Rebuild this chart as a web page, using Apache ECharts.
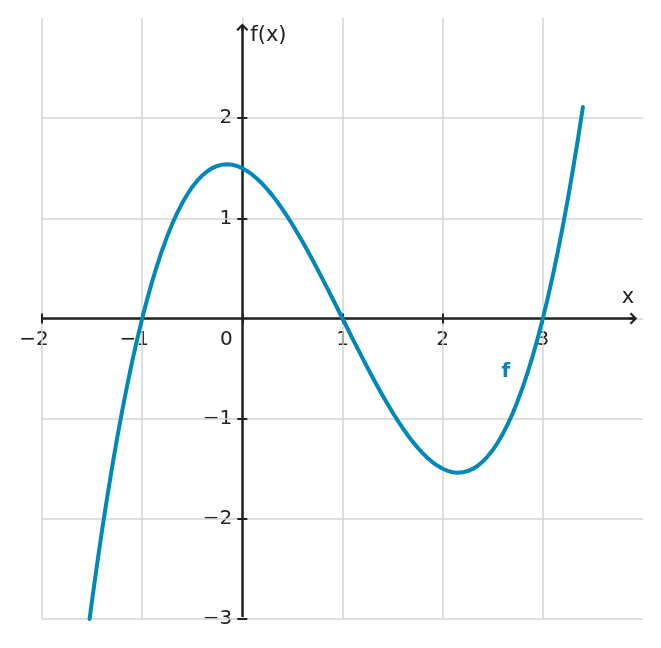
<!DOCTYPE html>
<html>
<head>
<meta charset="utf-8">
<script src="https://cdn.jsdelivr.net/npm/echarts@6/dist/echarts.min.js"></script>
<style>
html,body{margin:0;padding:0;background:#fff;}
#c{width:661px;height:648px;}
</style>
</head>
<body>
<div id="c"></div>
<script>
// Curve points
const xs = [-1.525,-1.5,-1.45,-1.4,-1.35,-1.3,-1.25,-1.2,-1.15,-1.1,-1.05,-1.0,-0.95,-0.9,-0.85,-0.8,-0.75,-0.7,-0.65,-0.6,-0.55,-0.5,-0.45,-0.4,-0.35,-0.3,-0.25,-0.2,-0.15,-0.1,-0.05,0,
  0.05,0.1,0.15,0.2,0.25,0.3,0.35,0.4,0.45,0.5,0.55,0.6,0.65,0.7,0.75,0.8,0.85,0.9,0.95,1.0,
  1.05,1.1,1.15,1.2,1.25,1.3,1.35,1.4,1.45,1.5,1.55,1.6,1.65,1.7,1.75,1.8,1.85,1.9,1.95,2.0,
  2.05,2.1,2.15,2.2,2.25,2.3,2.35,2.4,2.45,2.5,2.55,2.6,2.65,2.7,2.75,2.8,2.85,2.9,2.95,3.0,
  3.05,3.1,3.15,3.2,3.25,3.3,3.35,3.4];
const ys = [-2.999,-2.813,-2.453,-2.112,-1.789,-1.484,-1.195,-0.924,-0.669,-0.431,-0.208,0,0.193,0.371,0.534,0.684,0.820,0.944,1.054,1.152,1.238,1.313,1.376,1.428,1.470,1.502,1.523,1.536,1.540,1.535,1.521,1.5,
  1.471,1.436,1.393,1.344,1.289,1.229,1.163,1.092,1.017,0.938,0.854,0.768,0.679,0.587,0.492,0.396,0.298,0.200,0.100,0,
  -0.100,-0.200,-0.298,-0.396,-0.492,-0.587,-0.679,-0.768,-0.854,-0.938,-1.017,-1.092,-1.163,-1.229,-1.289,-1.344,-1.393,-1.436,-1.471,-1.5,
  -1.521,-1.535,-1.540,-1.536,-1.523,-1.502,-1.470,-1.428,-1.376,-1.313,-1.238,-1.152,-1.054,-0.944,-0.820,-0.684,-0.534,-0.371,-0.193,0,
  0.208,0.431,0.669,0.924,1.195,1.484,1.789,2.112];
const xTicks = [-2,-1,0,1,2,3];
const yTicks = [-3,-2,-1,1,2];
const xGrid = [-2,-1,0,1,2,3];
const yGrid = [-3,-2,-1,0,1,2];
const curveName = 'f';
const curveLabelPos = [2.63, -0.53];
const xRange = [-2, 4];
const yRange = [-3, 3];
const xAxisEnd = 3.905;   // where the x-axis arrow sits
const yAxisEnd = 2.908;   // where the y-axis arrow sits
const yAxisStart = -2.98;
const tickHalf = 0.05;

const FONT = 'DejaVu Sans';
const INK = '#222222';
const BLUE = '#0088bb';
const GRIDC = '#d4d4d4';

const G = {left: 42, right: 18, top: 18, bottom: 29};
const W = 661 - G.left - G.right;
const H = 648 - G.top - G.bottom;
// x axis (labels) sits at y = 0, y axis (labels) sits at x = 0
const xAxisOff = -H * (0 - yRange[0]) / (yRange[1] - yRange[0]);
const yAxisOff = -W * (0 - xRange[0]) / (xRange[1] - xRange[0]);

// open chevron arrow with stem (points "up" in symbol space)
const ARROW = 'path://M6,0 L12,6 L10.5,7.5 L6,3 L1.5,7.5 L0,6 Z M4.8,2 L7.2,2 L7.2,7.5 L4.8,7.5 Z';

const chart = echarts.init(document.getElementById('c'), null, {renderer:'canvas'});

const lblStyle = {fontFamily: FONT, fontSize: 20, color: INK};
const xLabelFmt = function(v){
  if (xTicks.indexOf(v) < 0) return '';
  if (v === 0) return '{z|0}';
  if (v < 0) return '{n|\u2212' + (-v) + '}';
  return '{p|' + v + '}';
};
const yLabelFmt = function(v){
  if (yTicks.indexOf(v) < 0) return '';
  return v < 0 ? '\u2212' + (-v) : String(v);
};

const tickSegs = xTicks.map(v => [{coord: [v, -tickHalf]}, {coord: [v, tickHalf]}])
  .concat(yTicks.map(v => [{coord: [-tickHalf, v]}, {coord: [tickHalf, v]}]));

chart.setOption({
  animation: false,
  backgroundColor: '#fff',
  grid: Object.assign({containLabel: false}, G),
  xAxis: {
    type: 'value', min: xRange[0], max: xRange[1], interval: 1,
    position: 'bottom', offset: xAxisOff,
    axisLine: {show: false, onZero: false},
    axisTick: {show: false},
    axisLabel: {show: true, margin: 11, formatter: xLabelFmt,
      rich: {
        z: Object.assign({padding: [0, 32, 0, 0]}, lblStyle),
        n: Object.assign({padding: [0, 16, 0, 0]}, lblStyle),
        p: Object.assign({}, lblStyle)
      }},
    splitLine: {show: false},
    name: 'x', nameLocation: 'end', nameGap: -15,
    nameTextStyle: {fontFamily: FONT, fontSize: 21, color: INK, align: 'center', verticalAlign: 'bottom', padding: [0,0,10,0]}
  },
  yAxis: {
    type: 'value', min: yRange[0], max: yRange[1], interval: 1,
    position: 'left', offset: yAxisOff,
    axisLine: {show: false, onZero: false},
    axisTick: {show: false},
    axisLabel: {show: true, margin: 10, formatter: yLabelFmt, fontFamily: FONT, fontSize: 20, color: INK},
    splitLine: {show: false},
    name: 'f(x)', nameLocation: 'end', nameGap: -18,
    nameTextStyle: {fontFamily: FONT, fontSize: 21, color: INK, align: 'left', verticalAlign: 'middle', padding: [0,0,0,8]}
  },
  series: [
    {
      type: 'line', z: 1, data: [], silent: true,
      markLine: {
        silent: true, symbol: 'none', label: {show: false}, animation: false,
        lineStyle: {color: GRIDC, width: 1.5, type: 'solid'},
        emphasis: {disabled: true},
        data: xGrid.map(v => ({xAxis: v})).concat(yGrid.map(v => ({yAxis: v})))
      }
    },
    {
      type: 'line', z: 3, data: [], silent: true,
      markLine: {
        silent: true, label: {show: false}, animation: false,
        symbol: ['none', ARROW], symbolSize: [12, 7.5],
        lineStyle: {color: INK, width: 2.5, type: 'solid'},
        emphasis: {disabled: true},
        data: [
          [{coord: [xRange[0], 0]}, {coord: [xAxisEnd, 0]}],
          [{coord: [0, yAxisStart]}, {coord: [0, yAxisEnd]}]
        ]
      }
    },
    {
      type: 'line', z: 3, data: [], silent: true,
      markLine: {
        silent: true, label: {show: false}, animation: false, symbol: 'none',
        lineStyle: {color: INK, width: 2, type: 'solid'},
        emphasis: {disabled: true},
        data: tickSegs
      }
    },
    {
      name: curveName, type: 'line', z: 5,
      data: xs.map((x, i) => [x, ys[i]]),
      smooth: false, showSymbol: false, symbol: 'none', clip: false,
      lineStyle: {color: BLUE, width: 4, cap: 'round', join: 'round'}
    },
    {
      type: 'scatter', z: 6,
      data: [curveLabelPos], symbolSize: 0, itemStyle: {opacity: 1, color: BLUE},
      label: {show: true, position: 'inside', formatter: curveName, opacity: 1,
        fontFamily: FONT, fontSize: 20, fontWeight: 'bold', color: BLUE, textBorderWidth: 0}
    }
  ]
});
</script>
</body>
</html>
